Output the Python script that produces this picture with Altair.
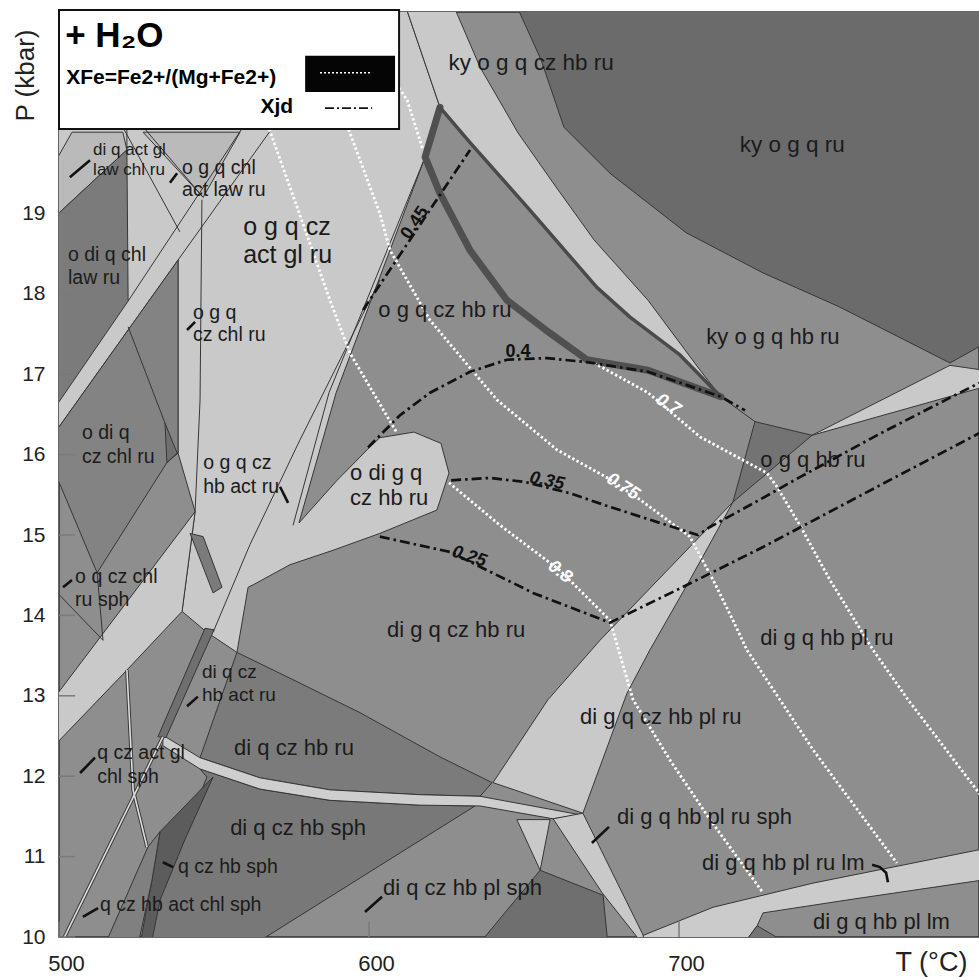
import altair as alt
import pandas as pd

FONT = "Liberation Sans"
T_MIN, T_MAX = 500.0, 796.77
P_MIN, P_MAX = 10.0, 21.505

BASE = "#8e8e8e"
LIGHT = "#c9c9c9"
PALE = "#cecece"
SOFT = "#bababa"
DARK = "#6b6b6b"
MIDDARK = "#7b7b7b"
SLATE = "#838383"
DEEP = "#6f6f6f"
DEEPEST = "#5c5c5c"

# ---- phase-field polygons, vertices as (T °C, P kbar) ----
light_main = [(499, 21.6), (611.6, 21.6), (622.9, 20.32), (618.1, 19.70), (589.4, 16.77),
              (577.4, 15.15), (589.7, 15.68), (599.4, 16.06), (603.5, 16.21), (614.5, 16.28),
              (623.2, 16.14), (625.8, 15.77), (621.9, 15.31), (603.5, 15.02), (588.4, 14.81),
              (574.5, 14.63), (562.6, 14.38), (561.0, 14.35), (557.4, 13.54), (547.7, 13.79),
              (539.7, 14.05), (543.9, 15.29), (538.4, 16.02), (538.4, 18.42), (499, 16.29)]
di_q_act_gl_law = [(499.5, 19.69), (504.2, 20.01), (520.6, 20.01), (521.9, 19.79), (499, 18.97)]
o_g_q_chl_act_law = [(527.1, 20.01), (558.4, 20.01), (546.5, 19.20)]
light_upper = [(611.6, 21.6), (627.1, 21.6), (635.8, 20.82), (648.1, 20.0), (660.3, 19.33),
               (672.6, 18.67), (690.0, 17.92), (706.8, 17.05), (713.5, 16.72), (700.3, 17.24),
               (684.2, 17.71), (673.5, 18.08), (651.9, 19.04), (632.6, 19.88), (622.9, 20.32)]
ky_o_g_q_ru = [(647.4, 21.6), (655.5, 20.91), (662.9, 20.07), (677.7, 19.50), (702.3, 18.76),
               (727.1, 18.26), (751.6, 17.84), (787.4, 17.14), (800, 17.41), (800, 21.6)]
o_di_q_chl_law = [(499, 18.97), (521.9, 19.79), (522.3, 17.91), (499, 16.60)]
o_di_q_cz_chl = [(499, 16.29), (538.4, 18.42), (538.4, 16.02), (534.8, 15.90), (512.3, 14.53),
                 (499, 15.75)]
small_tri_a = [(534.2, 16.39), (538.1, 16.02), (534.8, 15.90)]
band_lower_left = [(499, 13.0), (543.9, 15.29), (539.7, 14.05), (521.9, 13.32), (499, 12.40)]
sliver_a = [(542.3, 15.02), (546.5, 14.98), (552.6, 14.35), (549.7, 14.28)]
di_q_cz_hb_ru = [(557.4, 13.54), (575.5, 13.20), (597.1, 12.79), (622.9, 12.24), (639.7, 11.92),
                 (635.8, 11.75), (616.5, 11.77), (587.4, 11.83), (564.8, 11.98), (545.5, 12.23)]
di_q_cz_hb_sph = [(545.5, 12.09), (564.8, 11.84), (587.4, 11.70), (616.5, 11.64), (634.2, 11.63),
                  (562.6, 9.9), (528.7, 9.9), (534.2, 10.71), (542.3, 11.46), (547.7, 11.99)]
q_cz_hb_sph = [(549.7, 11.99), (540.6, 11.21), (532.6, 10.46), (529.7, 9.9), (526.1, 9.9),
               (530.0, 10.71), (532.6, 11.31)]
q_cz_hb_act_chl_sph = [(514.8, 9.9), (528.7, 11.12), (532.6, 11.31), (530.0, 10.71), (525.5, 9.9)]
thin_band = [(533.5, 12.51), (545.5, 12.23), (564.8, 11.98), (587.4, 11.83), (616.5, 11.77),
             (635.8, 11.75), (668.1, 11.52), (659.4, 11.47), (635.8, 11.63), (616.5, 11.64),
             (587.4, 11.70), (564.8, 11.84), (545.5, 12.09), (533.5, 12.38)]
sliver_b = [(547.1, 13.84), (550.0, 13.82), (534.5, 12.48), (531.9, 12.49)]
bottom_dark = [(635.2, 9.9), (655.2, 10.83), (675.5, 10.52), (677.1, 9.9)]
bottom_light_tri = [(647.7, 11.46), (658.4, 11.46), (655.2, 10.83)]
sph_band = [(659.4, 11.47), (669.0, 11.54), (690.0, 9.9), (688.5, 9.9), (675.2, 10.55)]
di_g_q_cz_hb_pl_ru = [(717.4, 15.41), (703.5, 14.44), (690.6, 13.57), (683.2, 13.03), (669.0, 11.54),
                      (640.0, 11.92), (657.7, 12.95), (674.5, 13.69)]
right_wedge = [(742.9, 16.24), (787.4, 17.11), (800, 17.04), (800, 16.86)]
o_g_q_hb_ru = [(724.5, 16.41), (742.9, 16.24), (717.4, 15.41)]
lm_band = [(688.4, 10.02), (711.0, 10.37), (743.2, 10.67), (775.5, 10.92), (800, 11.11),
           (800, 10.72), (754.2, 10.46), (727.1, 10.30), (725.2, 10.14), (720.6, 9.9), (689.0, 9.9)]
bottom_tri = [(720.6, 9.9), (725.2, 10.14), (735.8, 9.9)]

fields = [
    ("light_main", LIGHT, light_main),
    ("di_q_act_gl_law", SOFT, di_q_act_gl_law),
    ("o_g_q_chl_act_law", SOFT, o_g_q_chl_act_law),
    ("light_upper", LIGHT, light_upper),
    ("ky_o_g_q_ru", DARK, ky_o_g_q_ru),
    ("o_di_q_chl_law", MIDDARK, o_di_q_chl_law),
    ("o_di_q_cz_chl", SLATE, o_di_q_cz_chl),
    ("small_tri_a", DEEP, small_tri_a),
    ("band_lower_left", LIGHT, band_lower_left),
    ("sliver_a", MIDDARK, sliver_a),
    ("di_q_cz_hb_ru", MIDDARK, di_q_cz_hb_ru),
    ("di_q_cz_hb_sph", "#787878", di_q_cz_hb_sph),
    ("q_cz_hb_sph", DEEPEST, q_cz_hb_sph),
    ("q_cz_hb_act_chl_sph", "#808080", q_cz_hb_act_chl_sph),
    ("thin_band", PALE, thin_band),
    ("sliver_b", DEEP, sliver_b),
    ("bottom_dark", DEEP, bottom_dark),
    ("bottom_light_tri", LIGHT, bottom_light_tri),
    ("sph_band", LIGHT, sph_band),
    ("di_g_q_cz_hb_pl_ru", LIGHT, di_g_q_cz_hb_pl_ru),
    ("right_wedge", LIGHT, right_wedge),
    ("o_g_q_hb_ru", "#737373", o_g_q_hb_ru),
    ("lm_band", "#cbcbcb", lm_band),
    ("bottom_tri", "#757575", bottom_tri),
]

# ---- extra field boundaries ----
edges = [
    ("db1_upper", [(559.8, 20.1), (522.3, 17.91)]),
    ("db1_lower", [(569.5, 20.1), (538.4, 18.42)]),
    ("t546", [(546.1, 19.17), (545.5, 16.68), (543.9, 15.29)]),
    ("strip_a", [(520.2, 20.1), (539.0, 18.77)]),
    ("strip_b", [(526.6, 20.1), (546.5, 19.20)]),
    ("top_v", [(521.9, 20.1), (521.9, 19.79)]),
    ("mid_light", [(603.5, 18.17), (577.7, 16.18), (561.6, 14.88), (549.7, 13.79)]),
    ("double_left", [(618.1, 19.70), (587.1, 16.77), (575.5, 15.12)]),
    ("left_low_a", [(499, 14.30), (514.2, 13.69)]),
    ("left_low_b", [(512.3, 14.53), (514.2, 13.69)]),
    ("tip_link", [(713.5, 16.72), (724.5, 16.41)]),
    ("chl_link", [(522.3, 17.59), (534.2, 16.39)]),
]
double_lines = [
    ("v_double", [(521.9, 13.32), (523.9, 11.83), (528.4, 11.12)]),
    ("d_double", [(533.5, 12.49), (500.5, 9.9)]),
]
outline_thick = [(622.9, 20.32), (618.1, 19.70), (622.9, 19.25), (632.6, 18.54), (644.5, 17.92),
                 (658.4, 17.51), (670.3, 17.18), (690.0, 17.05), (713.5, 16.72)]
outline_thin = [(713.5, 16.72), (700.3, 17.24), (684.2, 17.71), (673.5, 18.08), (651.9, 19.04),
                (632.6, 19.88), (622.9, 20.32)]

# ---- XFe isopleths (white dotted) ----
xfe_lines = [
    ("xfe_08a", [(566.8, 20.16), (577.7, 18.98), (587.4, 17.92), (593.9, 17.26), (609.0, 16.27)]),
    ("xfe_08b", [(625.8, 15.65), (642.3, 15.12), (661.6, 14.56), (677.7, 13.94), (685.2, 12.95),
                 (697.1, 12.20), (710.0, 11.46), (727.1, 10.55)]),
    ("xfe_075", [(592.9, 20.10), (603.5, 19.0), (606.8, 18.54), (619.7, 17.67), (641.3, 16.68),
                 (660.6, 16.06), (676.5, 15.72), (687.4, 15.44), (703.5, 14.98), (711.0, 14.44),
                 (717.4, 13.94), (721.9, 13.57), (743.2, 12.33), (770.3, 10.92)]),
    ("xfe_07a", [(609.7, 20.56), (612.3, 20.41), (617.4, 19.79)]),
    ("xfe_07b", [(672.6, 17.14), (690.0, 16.77), (706.8, 16.22), (728.4, 15.77), (731.6, 15.60),
                 (739.0, 15.12), (748.7, 14.44), (762.6, 13.57), (773.9, 12.95), (796.8, 11.79),
                 (800, 11.63)]),
]

# ---- Xjd isopleths (black dash-dot) ----
xjd_lines = [
    ("xjd_045", [(598.1, 17.80), (632.6, 19.79)]),
    ("xjd_040", [(599.7, 16.09), (610.0, 16.49), (619.7, 16.77), (632.6, 17.03), (644.5, 17.18),
                 (657.4, 17.20), (670.3, 17.15), (690.0, 17.03), (713.5, 16.72), (721.3, 16.55)]),
    ("xjd_035", [(626.5, 15.68), (639.0, 15.71), (650.3, 15.66), (664.8, 15.52), (677.7, 15.35),
                 (690.6, 15.19), (706.1, 15.0), (710.0, 15.10), (726.1, 15.44), (739.0, 15.72),
                 (764.8, 16.26), (790.6, 16.77), (800, 16.95)]),
    ("xjd_025", [(603.5, 14.98), (626.1, 14.79), (652.9, 14.28), (677.7, 13.91), (697.4, 14.28),
                 (727.1, 14.85), (763.9, 15.60), (800, 16.33)]),
]

# ---- label leaders ----
leaders = [
    ("l1", [(503.5, 19.45), (510.0, 19.66)]),
    ("l2", [(535.8, 19.38), (538.1, 19.50)]),
    ("l3", [(541.3, 17.55), (543.9, 17.65)]),
    ("l4", [(571.3, 15.60), (573.9, 15.40)]),
    ("l5", [(501.3, 14.35), (504.2, 14.44)]),
    ("l6", [(541.3, 12.87), (544.8, 12.99)]),
    ("l7", [(506.8, 12.04), (511.6, 12.23)]),
    ("l8", [(533.5, 10.93), (536.8, 10.87)]),
    ("l9", [(507.7, 10.25), (512.6, 10.36)]),
    ("l10", [(598.7, 10.31), (604.2, 10.50)]),
    ("l11", [(671.9, 11.17), (677.4, 11.37)]),
    ("l12", [(762.3, 10.90), (764.8, 10.87), (766.8, 10.80), (767.4, 10.68)]),
]

# ---- field labels: (text, T, P, font size) ----
labels_left = [
    ("o di q chl", 502.9, 18.48, 19.5), ("law ru", 502.9, 18.20, 19.5),
    ("di q act gl", 511.0, 19.79, 17), ("law chl ru", 511.0, 19.54, 17),
    ("o g q chl", 539.7, 19.57, 19.5), ("act law ru", 539.7, 19.29, 19.5),
    ("o g q", 543.2, 17.76, 19.5), ("cz chl ru", 543.2, 17.49, 19.5),
    ("o g q cz", 559.4, 18.83, 25), ("act gl ru", 559.4, 18.48, 25),
    ("o di q", 507.4, 16.27, 19.5), ("cz chl ru", 507.4, 15.97, 19.5),
    ("o g q cz", 546.5, 15.90, 19.5), ("hb act ru", 546.5, 15.60, 19.5),
    ("o di g q", 593.9, 15.77, 22), ("cz hb ru", 593.9, 15.46, 22),
    ("o q cz chl", 505.2, 14.48, 19.5), ("ru sph", 505.2, 14.19, 19.5),
    ("di q cz", 546.1, 13.30, 19), ("hb act ru", 546.1, 13.01, 19),
    ("q cz act gl", 512.3, 12.29, 19.5), ("chl sph", 512.3, 11.99, 19.5),
    ("q cz hb sph", 538.4, 10.87, 19.5),
    ("q cz hb act chl sph", 513.2, 10.40, 19.5),
    ("di q cz hb pl sph", 604.5, 10.61, 22),
    ("di g q cz hb pl ru", 668.1, 12.74, 22),
    ("di g q hb pl ru sph", 680.0, 11.49, 22),
    ("di g q hb pl ru lm", 707.4, 10.92, 22),
    ("di g q hb pl lm", 743.2, 10.19, 22),
]
labels_center = [
    ("ky o g q cz hb ru", 652.3, 20.87, 22.5),
    ("ky o g q ru", 736.5, 19.85, 22.5),
    ("o g q cz hb ru", 624.5, 17.80, 22),
    ("ky o g q hb ru", 730.3, 17.46, 22),
    ("o g q hb ru", 743.2, 15.93, 22),
    ("di g q cz hb ru", 628.1, 13.82, 22),
    ("di g q hb pl ru", 747.7, 13.72, 22),
    ("di q cz hb ru", 575.8, 12.35, 22),
    ("di q cz hb sph", 577.1, 11.36, 22),
]
# isopleth values: (text, T, P, angle)
xjd_upright = [("0.45", 614.8, 18.88, 304), ("0.4", 648.1, 17.27, 0)]
xjd_slanted = [("0.35", 657.4, 15.67, 12), ("0.25", 632.3, 14.73, 18)]
xfe_values = [("0.7", 696.5, 16.62, 33), ("0.75", 681.9, 15.60, 33), ("0.8", 661.6, 14.54, 38)]

# ---- key box ----
key_box = [(500.0, 609.7, 20.05, 21.53)]
key_swatch = [(579.4, 608.4, 20.51, 20.96)]
key_xfe = [(584.2, 20.75), (601.0, 20.75)]
key_xjd = [(585.8, 20.31), (601.0, 20.31)]
key_text_left = [("+ H₂O", 502.0, 21.21, 35), ("XFe=Fe2+/(Mg+Fe2+)", 502.3, 20.68, 21)]
key_text_right = [("Xjd", 575.5, 20.32, 21)]

x_ticks = [500, 600, 700]
y_ticks = list(range(10, 20))


def poly_table(items):
    rows = []
    for i, (name, color, pts) in enumerate(items):
        ring = list(pts) + [pts[0]]
        for k, (t, p) in enumerate(ring):
            rows.append({"pid": f"{i:02d}_{name}", "k": k, "T": t, "P": p, "fill": color})
    return pd.DataFrame(rows)


def path_table(items):
    rows = []
    for i, (name, pts) in enumerate(items):
        for k, (t, p) in enumerate(pts):
            rows.append({"lid": f"{i:02d}_{name}", "k": k, "T": t, "P": p})
    return pd.DataFrame(rows)


def text_table(items):
    return pd.DataFrame([{"label": s, "T": t, "P": p, "v": v} for s, t, p, v in items])


xs = alt.Scale(domain=[T_MIN, T_MAX], nice=False, zero=False)
ys = alt.Scale(domain=[P_MIN, P_MAX], nice=False, zero=False)
x_axis = alt.Axis(values=x_ticks, format="d", title="T (°C)", grid=False, ticks=False, domain=False,
                  labelFont=FONT, labelFontSize=22, labelColor="#222222", labelPadding=16,
                  labelOffset=7, labelFlush=False, titleFont=FONT, titleFontSize=27,
                  titleFontWeight="normal", titleColor="#222222", titleX=872, titleY=25,
                  titleAlign="center", titleBaseline="middle")
y_axis = alt.Axis(values=y_ticks, format="d", title="P (kbar)", grid=False, ticks=False, domain=False,
                  labelFont=FONT, labelFontSize=21, labelColor="#222222", labelPadding=14,
                  labelFlush=False, titleFont=FONT, titleFontSize=26, titleFontWeight="normal",
                  titleColor="#222222", titleAngle=270, titleX=-34, titleY=63,
                  titleAlign="center", titleBaseline="middle")
X = alt.X("T:Q", scale=xs, axis=x_axis)
Y = alt.Y("P:Q", scale=ys, axis=y_axis)

field_layer = alt.Chart(poly_table(fields)).mark_line(
    stroke="#363636", strokeWidth=1.0, strokeJoin="round", clip=True
).encode(x=X, y=Y, detail="pid:N", order="k:Q", fill=alt.Fill("fill:N", scale=None))

edge_layer = alt.Chart(path_table(edges)).mark_line(
    stroke="#363636", strokeWidth=1.0, clip=True
).encode(x=X, y=Y, detail="lid:N", order="k:Q")

dbl_dark = alt.Chart(path_table(double_lines)).mark_line(
    stroke="#3a3a3a", strokeWidth=3.6, clip=True
).encode(x=X, y=Y, detail="lid:N", order="k:Q")
dbl_light = alt.Chart(path_table(double_lines)).mark_line(
    stroke="#dedede", strokeWidth=1.6, clip=True
).encode(x=X, y=Y, detail="lid:N", order="k:Q")

outline_a = alt.Chart(path_table([("thick", outline_thick)])).mark_line(
    stroke="#505050", strokeWidth=7, strokeJoin="round", strokeCap="round", clip=True
).encode(x=X, y=Y, detail="lid:N", order="k:Q")
outline_b = alt.Chart(path_table([("thin", outline_thin)])).mark_line(
    stroke="#4a4a4a", strokeWidth=3.5, strokeJoin="round", strokeCap="round", clip=True
).encode(x=X, y=Y, detail="lid:N", order="k:Q")

xfe_layer = alt.Chart(path_table(xfe_lines)).mark_line(
    stroke="#ffffff", strokeWidth=2.8, strokeDash=[2.4, 2.4], clip=True
).encode(x=X, y=Y, detail="lid:N", order="k:Q")

xjd_layer = alt.Chart(path_table(xjd_lines)).mark_line(
    stroke="#111111", strokeWidth=2.7, strokeDash=[10, 4, 2.5, 4], clip=True
).encode(x=X, y=Y, detail="lid:N", order="k:Q")

leader_layer = alt.Chart(path_table(leaders)).mark_line(
    stroke="#111111", strokeWidth=2.6, clip=True
).encode(x=X, y=Y, detail="lid:N", order="k:Q")

tick_rows = [{"T": t, "T2": t, "P": 10.0, "P2": 10.19} for t in x_ticks] + \
            [{"T": 500.0, "T2": 505.2, "P": float(p), "P2": float(p)} for p in y_ticks]
tick_layer = alt.Chart(pd.DataFrame(tick_rows)).mark_rule(color="#7a7a7a", strokeWidth=1.5).encode(
    x=X, x2="T2:Q", y=Y, y2="P2:Q")

lab_left = alt.Chart(text_table(labels_left)).mark_text(
    align="left", baseline="middle", font=FONT, color="#1b1b1b"
).encode(x=X, y=Y, text="label:N", size=alt.Size("v:Q", scale=None))
lab_center = alt.Chart(text_table(labels_center)).mark_text(
    align="center", baseline="middle", font=FONT, color="#1b1b1b"
).encode(x=X, y=Y, text="label:N", size=alt.Size("v:Q", scale=None))

iso_black_a = alt.Chart(text_table(xjd_upright)).mark_text(
    align="center", baseline="middle", font=FONT, fontSize=18, fontWeight="bold", color="#111111"
).encode(x=X, y=Y, text="label:N", angle=alt.Angle("v:Q", scale=None))
iso_black_b = alt.Chart(text_table(xjd_slanted)).mark_text(
    align="center", baseline="middle", font=FONT, fontSize=18, fontWeight="bold",
    fontStyle="italic", color="#111111"
).encode(x=X, y=Y, text="label:N", angle=alt.Angle("v:Q", scale=None))
iso_white = alt.Chart(text_table(xfe_values)).mark_text(
    align="center", baseline="middle", font=FONT, fontSize=18, fontWeight="bold",
    fontStyle="italic", color="#ffffff"
).encode(x=X, y=Y, text="label:N", angle=alt.Angle("v:Q", scale=None))

box_df = pd.DataFrame([{"T": a, "T2": b, "P": c, "P2": d} for a, b, c, d in key_box])
box_layer = alt.Chart(box_df).mark_rect(fill="white", stroke="#111111", strokeWidth=2).encode(
    x=X, x2="T2:Q", y=Y, y2="P2:Q")
sw_df = pd.DataFrame([{"T": a, "T2": b, "P": c, "P2": d} for a, b, c, d in key_swatch])
sw_layer = alt.Chart(sw_df).mark_rect(fill="#050505").encode(x=X, x2="T2:Q", y=Y, y2="P2:Q")
key_xfe_layer = alt.Chart(path_table([("kx", key_xfe)])).mark_line(
    stroke="#ffffff", strokeWidth=1.6, strokeDash=[2, 2]
).encode(x=X, y=Y, detail="lid:N", order="k:Q")
key_xjd_layer = alt.Chart(path_table([("kj", key_xjd)])).mark_line(
    stroke="#111111", strokeWidth=1.6, strokeDash=[9, 3, 2, 3]
).encode(x=X, y=Y, detail="lid:N", order="k:Q")
key_left = alt.Chart(text_table(key_text_left)).mark_text(
    align="left", baseline="middle", font=FONT, fontWeight="bold", color="#000000"
).encode(x=X, y=Y, text="label:N", size=alt.Size("v:Q", scale=None))
key_right = alt.Chart(text_table(key_text_right)).mark_text(
    align="right", baseline="middle", font=FONT, fontWeight="bold", color="#000000"
).encode(x=X, y=Y, text="label:N", size=alt.Size("v:Q", scale=None))

chart = alt.layer(
    field_layer, edge_layer, dbl_dark, dbl_light, outline_a, outline_b,
    xfe_layer, xjd_layer, leader_layer, tick_layer,
    lab_left, lab_center, iso_black_a, iso_black_b, iso_white,
    box_layer, sw_layer, key_xfe_layer, key_xjd_layer, key_left, key_right
).properties(
    width=920, height=925,
    autosize=alt.AutoSizeParams(type="none"),
    padding={"left": 59, "top": 12, "right": 0, "bottom": 40},
    background="white",
).configure_view(fill=BASE, stroke="#333333", strokeWidth=1.5)

chart.save("out.html", embed_options={"renderer": "svg", "actions": False})
